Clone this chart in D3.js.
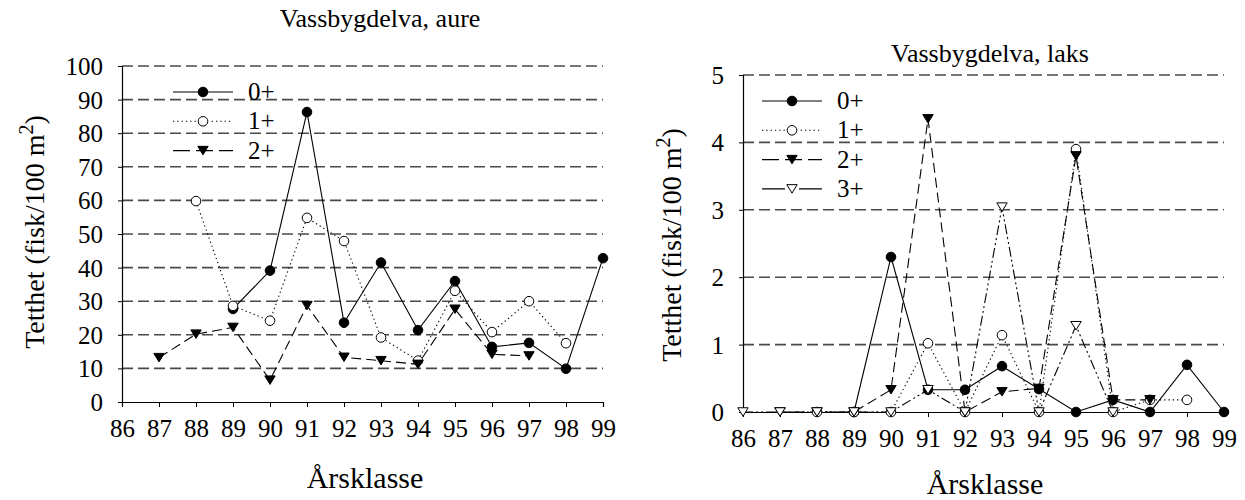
<!DOCTYPE html>
<html>
<head>
<meta charset="utf-8">
<script src="https://cdn.jsdelivr.net/npm/d3@7"></script>
</head>
<body style="margin:0">
<svg id="chart" width="1245" height="500"></svg>
<script>
// Year classes on the x axis
const years = [86, 87, 88, 89, 90, 91, 92, 93, 94, 95, 96, 97, 98, 99];
const yearLabels = ["86", "87", "88", "89", "90", "91", "92", "93", "94", "95", "96", "97", "98", "99"];

// Brown trout (aure), density per 100 m2 by year class and age group
const aure0 = [null, null, null, 27.7, 39.1, 86.3, 23.6, 41.5, 21.4, 36.0, 16.4, 17.6, 9.9, 42.8];
const aure1 = [null, null, 59.8, 28.6, 24.2, 54.8, 47.9, 19.2, 12.3, 33.1, 20.8, 30.0, 17.5, null];
const aure2 = [null, 13.2, 20.2, 22.2, 6.5, 28.7, 13.3, 12.3, 11.2, 27.6, 14.2, 13.7, null, null];
const aureTicks = [0, 10, 20, 30, 40, 50, 60, 70, 80, 90, 100];

// Atlantic salmon (laks), density per 100 m2 by year class and age group
const laks0 = [null, null, null, 0, 2.30, 0.33, 0.33, 0.68, 0.34, 0, 0.18, 0, 0.70, 0];
const laks1 = [null, null, 0, 0, 0, 1.02, 0, 1.14, 0, 3.90, 0, 0.18, 0.18, null];
const laks2 = [null, 0, 0, 0, 0.33, 4.35, 0, 0.30, 0.35, 3.80, 0.18, 0.18, null, null];
const laks3 = [0, 0, 0, 0, 0, 0.33, 0, 3.04, 0, 1.28, 0, null, null, null];
const laksTicks = [0, 1, 2, 3, 4, 5];

const ageLabels = ["0+", "1+", "2+", "3+"];

const svg = d3.select("#chart");

// Line and marker style for each age group
const styles = [
  { dash: null,              marker: "circle",   fill: "#000" },
  { dash: "1.3,3",           marker: "circle",   fill: "#fff" },
  { dash: "10,5",            marker: "triangle", fill: "#000" },
  { dash: "10,3,2,3,2,3",    marker: "triangle", fill: "#fff" }
];
const legendDash = [null, "1.3,3", "17,6", null];

function drawMarker(g, kind, fill, x, y) {
  if (kind === "circle") {
    g.append("circle").attr("cx", x).attr("cy", y).attr("r", 4.8)
      .attr("fill", fill).attr("stroke", "#000").attr("stroke-width", 1);
  } else {
    const w = 5.2, h = 8.5;
    g.append("path")
      .attr("d", `M${x - w},${y - h / 2}L${x + w},${y - h / 2}L${x},${y + h / 2}Z`)
      .attr("fill", fill).attr("stroke", "#000").attr("stroke-width", 1);
  }
}

// Text in the page's default (serif) face
function label(g, x, y, size, str, anchor) {
  return g.append("text").attr("x", x).attr("y", y)
    .attr("font-size", size)
    .attr("text-anchor", anchor || "middle").attr("fill", "#000")
    .text(str);
}

function panel(opt) {
  const g = svg.append("g");
  const x = d3.scaleLinear().domain([86, 99]).range([opt.x0, opt.x1]);
  const y = d3.scaleLinear().domain([0, opt.yMax]).range([opt.y0, opt.y1]);

  // dashed horizontal gridlines
  g.append("g").selectAll("line")
    .data(opt.ticks.filter(t => t > 0))
    .join("line")
    .attr("x1", opt.x0).attr("x2", opt.x1)
    .attr("y1", d => y(d)).attr("y2", d => y(d))
    .attr("stroke", "#4a4a4a").attr("stroke-width", 1.6)
    .attr("stroke-dasharray", "11,5");

  // y axis
  const yAxis = d3.axisLeft(y).tickValues(opt.ticks).tickSize(4).tickPadding(15)
    .tickFormat(d3.format("d"));
  const ya = g.append("g").attr("transform", `translate(${opt.x0},0)`).call(yAxis)
    .attr("font-family", null).attr("font-size", 25);
  ya.select(".domain").attr("stroke", "#000").attr("stroke-width", 1.2);
  ya.selectAll(".tick line").attr("stroke", "#000");
  ya.selectAll("text").attr("font-size", 25).attr("dy", "0.34em");

  // x axis
  const xAxis = d3.axisBottom(x).tickValues(years).tickSize(5).tickPadding(12)
    .tickFormat((d, i) => yearLabels[i]);
  const xa = g.append("g").attr("transform", `translate(0,${opt.y0})`).call(xAxis)
    .attr("font-family", null).attr("font-size", 25);
  xa.select(".domain").attr("stroke", "#000").attr("stroke-width", 1.2);
  xa.selectAll(".tick line").attr("stroke", "#000");
  xa.selectAll("text").attr("font-size", 25);

  // series lines
  const line = d3.line()
    .defined(d => d.v !== null)
    .x(d => x(d.yr)).y(d => y(d.v));
  opt.series.forEach((vals, i) => {
    const pts = years.map((yr, k) => ({ yr, v: vals[k] }));
    g.append("path").datum(pts)
      .attr("d", line)
      .attr("fill", "none").attr("stroke", "#000").attr("stroke-width", 1.1)
      .attr("stroke-dasharray", styles[i].dash);
  });
  // series markers, in series order
  opt.series.forEach((vals, i) => {
    const mg = g.append("g");
    years.forEach((yr, k) => {
      if (vals[k] !== null) drawMarker(mg, styles[i].marker, styles[i].fill, x(yr), y(vals[k]));
    });
  });

  // legend
  opt.series.forEach((vals, i) => {
    const ly = opt.legY + i * opt.legStep;
    g.append("line")
      .attr("x1", opt.legX).attr("x2", opt.legX + 60)
      .attr("y1", ly).attr("y2", ly)
      .attr("stroke", "#000").attr("stroke-width", 1.1)
      .attr("stroke-dasharray", legendDash[i]);
    const lg = g.append("g");
    if (styles[i].fill === "#fff") {
      lg.append("rect").attr("x", opt.legX + 23).attr("y", ly - 6).attr("width", 14).attr("height", 12).attr("fill", "#fff");
    }
    drawMarker(lg, styles[i].marker, styles[i].fill, opt.legX + 30, ly);
    label(g, opt.legX + 75, ly + 8, 25, ageLabels[i], "start");
  });

  // title
  label(g, opt.titleX, opt.titleY, 26, opt.title);

  // axis titles
  label(g, opt.xLabX, opt.xLabY, 30, "Årsklasse");
  const yl = g.append("text").attr("font-size", 28)
    .attr("transform", `translate(${opt.yLabX},${opt.yLabY}) rotate(-90)`)
    .attr("text-anchor", "middle");
  yl.append("tspan").text("Tetthet (fisk/100 m");
  yl.append("tspan").attr("dy", -11).attr("font-size", 20).text("2");
  yl.append("tspan").attr("dy", 11).text(")");
}

panel({
  x0: 122, x1: 603, y0: 402, y1: 66, yMax: 100, ticks: aureTicks,
  series: [aure0, aure1, aure2],
  legX: 173, legY: 92, legStep: 29.3,
  title: "Vassbygdelva, aure", titleX: 380, titleY: 27,
  xLabX: 365, xLabY: 488, yLabX: 44, yLabY: 232
});

panel({
  x0: 743, x1: 1224, y0: 412, y1: 75, yMax: 5, ticks: laksTicks,
  series: [laks0, laks1, laks2, laks3],
  legX: 762, legY: 101, legStep: 29.3,
  title: "Vassbygdelva, laks", titleX: 990, titleY: 62,
  xLabX: 985, xLabY: 494, yLabX: 681, yLabY: 245
});
</script>
</body>
</html>
